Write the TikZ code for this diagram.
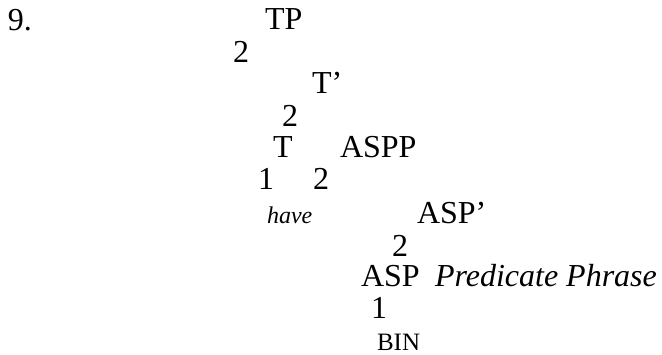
\documentclass[tikz,border=0pt]{standalone}
\usepackage{fontspec}
\setmainfont{Liberation Serif}
\begin{document}
\begin{tikzpicture}[x=1pt,y=1pt,
  lbl/.style={anchor=base west,inner sep=0pt,outer sep=0pt,font=\fontsize{32}{38}\selectfont},
  sml/.style={anchor=base west,inner sep=0pt,outer sep=0pt,font=\fontsize{25}{30}\selectfont},
  itl/.style={anchor=base west,inner sep=0pt,outer sep=0pt,font=\fontsize{24}{29}\selectfont\itshape},
  itb/.style={anchor=base west,inner sep=0pt,outer sep=0pt,font=\fontsize{32}{38}\selectfont\itshape}]
\useasboundingbox (0,0) rectangle (662,354);
\node[lbl] (num) at (8,{354-31}) {9.};
\node[lbl] (tp) at (265,{354-30}) {TP};
\node[lbl] (br1) at (233,{354-63}) {2};
\node[lbl] (tbar) at (312,{354-94}) {T’};
\node[lbl] (br2) at (282,{354-127}) {2};
\node[lbl] (t) at (273,{354-158}) {T};
\node[lbl] (aspp) at (340,{354-158}) {ASPP};
\node[lbl] (br3) at (258,{354-190}) {1};
\node[lbl] (br4) at (313,{354-190}) {2};
\node[itl] (have) at (267,{354-223}) {have};
\node[lbl] (aspbar) at (417,{354-223}) {ASP’};
\node[lbl] (br5) at (392,{354-257}) {2};
\node[lbl] (asp) at (361,{354-287}) {ASP};
\node[itb] (pred) at (435,{354-287}) {Predicate Phrase};
\node[lbl] (br6) at (371,{354-318}) {1};
\node[sml] (bin) at (377,{354-350}) {BIN};
\end{tikzpicture}
\end{document}
